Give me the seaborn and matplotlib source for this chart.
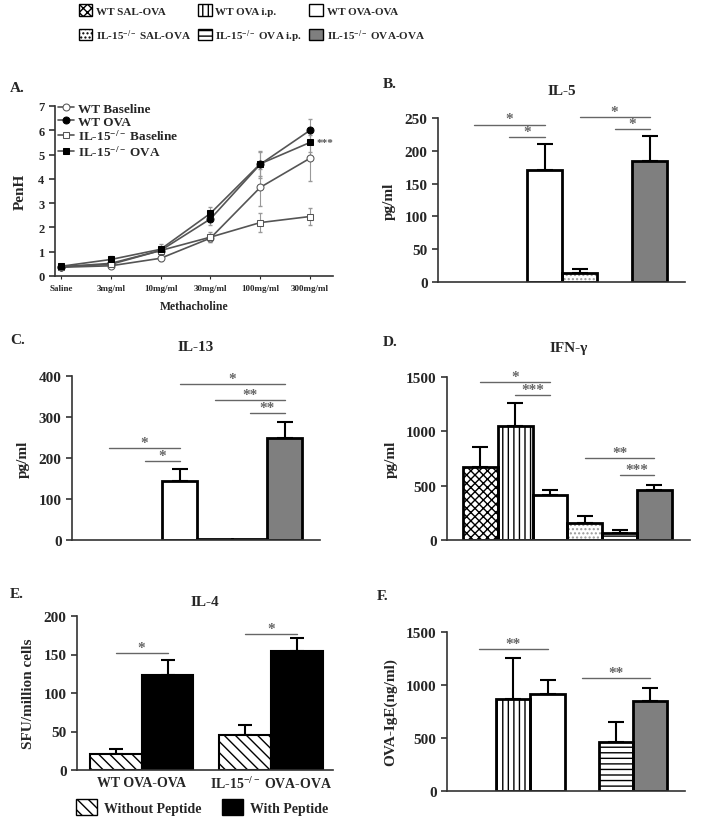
import numpy as np
import pandas as pd
import matplotlib
matplotlib.use("Agg")
import matplotlib.pyplot as plt
import seaborn as sns
from matplotlib.patches import Patch

# ---- data ----
GROUPS = ["WT SAL-OVA", "WT OVA i.p.", "WT OVA-OVA",
          "IL-15$^{-/-}$ SAL-OVA", "IL-15$^{-/-}$ OVA i.p.", "IL-15$^{-/-}$ OVA-OVA"]

DOSES = ["Saline", "3mg/ml", "10mg/ml", "30mg/ml", "100mg/ml", "300mg/ml"]
WT_BASE = [0.36, 0.42, 0.73, 1.56, 3.65, 4.85]
WT_BASE_ERR = [0.05, 0.08, 0.10, 0.15, 0.75, 0.95]
WT_OVA = [0.38, 0.52, 1.05, 2.35, 4.60, 6.00]
WT_OVA_ERR = [0.05, 0.12, 0.15, 0.25, 0.55, 0.45]
IL_BASE = [0.38, 0.48, 1.05, 1.60, 2.20, 2.45]
IL_BASE_ERR = [0.05, 0.10, 0.12, 0.20, 0.40, 0.35]
IL_OVA = [0.40, 0.68, 1.10, 2.58, 4.62, 5.50]
IL_OVA_ERR = [0.05, 0.15, 0.20, 0.25, 0.50, 0.40]

IL5_MEAN = [0, 0, 170, 13, 0, 185]
IL5_SEM = [0, 0, 40, 7, 0, 38]
IL5_SIG = [(0, 2, 240, "*"), (1, 2, 221, "*"), (3, 5, 251, "*"), (4, 5, 233, "*")]

IL13_MEAN = [0, 0, 143, 2, 3, 248]
IL13_SEM = [0, 0, 30, 0, 0, 41]
IL13_SIG = [(0, 2, 224, "*"), (1, 2, 193, "*"), (2, 5, 380, "*"),
            (3, 5, 341, "**"), (4, 5, 310, "**")]

IFN_MEAN = [674, 1050, 414, 160, 65, 460]
IFN_SEM = [180, 210, 45, 60, 25, 50]
IFN_SIG = [(0, 2, 1453, "*"), (1, 2, 1334, "***"), (3, 5, 754, "**"), (4, 5, 598, "***")]

IGE_MEAN = [0, 868, 915, 0, 462, 850]
IGE_SEM = [0, 385, 132, 0, 188, 120]
IGE_SIG = [(0, 2, 1340, "**"), (3, 5, 1066, "**")]

IL4_GROUPS = ["WT OVA-OVA", "IL-15$^{-/-}$ OVA-OVA"]
IL4_COND = ["Without Peptide", "With Peptide"]
IL4_WITHOUT = [21, 46]
IL4_WITHOUT_SEM = [6, 12]
IL4_WITH = [123, 155]
IL4_WITH_SEM = [20, 16]
IL4_SIG = [(0, 152, "*"), (1, 177, "*")]

# ---- styles ----
FACES = ["white", "white", "white", "white", "white", "#7f7f7f"]
HATCHES = ["xxxx", "|||", "", "....", "---", ""]
HATCH_COLORS = ["black", "black", "black", "#9a9a9a", "black", "black"]
SIG_COLOR = "#666666"

sns.set_style("ticks")
plt.rcParams["font.family"] = ["Liberation Serif", "DejaVu Serif"]
plt.rcParams["font.weight"] = "bold"
plt.rcParams["axes.labelweight"] = "bold"
plt.rcParams["axes.titleweight"] = "bold"
plt.rcParams["mathtext.fontset"] = "custom"
plt.rcParams["mathtext.rm"] = "Liberation Serif:bold"
plt.rcParams["mathtext.it"] = "Liberation Serif:bold"
plt.rcParams["mathtext.bf"] = "Liberation Serif:bold"
plt.rcParams["hatch.linewidth"] = 1.0

W, H = 704, 828


def box(l, t, r, b):
    return [l / W, 1 - b / H, (r - l) / W, (b - t) / H]


def style_axis(ax, size=11):
    sns.despine(ax=ax)
    for s in ["left", "bottom"]:
        ax.spines[s].set_color("#333333")
        ax.spines[s].set_linewidth(1.2)
    ax.tick_params(axis="y", labelsize=size, width=1.2, length=4, color="#333333")
    for t in ax.get_yticklabels():
        t.set_fontweight("bold")


def sig_mark(ax, x1, x2, y, stars):
    ax.plot([x1, x2], [y, y], color=SIG_COLOR, linewidth=1, clip_on=False)
    ax.annotate(stars, ((x1 + x2) / 2, y), xytext=(0, 1.5), textcoords="offset points",
                ha="center", va="baseline", fontsize=11, color=SIG_COLOR,
                annotation_clip=False)


fig = plt.figure(figsize=(W / 100, H / 100), dpi=100)

# ---- top legend ----
handles = [Patch(facecolor=f, edgecolor="black", hatch=h, linewidth=1)
           for f, h in zip(FACES, HATCHES)]
order = [0, 3, 1, 4, 2, 5]
fig.legend([handles[i] for i in order], [GROUPS[i] for i in order], ncol=3,
           loc="center", bbox_to_anchor=(252 / W, 1 - 25 / H), frameon=False,
           fontsize=8, handlelength=1.2, handleheight=1.2, handletextpad=0.35,
           columnspacing=0.6, labelspacing=1.0)

# ---- panel A ----
axA = fig.add_axes(box(55, 107, 333, 277))
series = [("WT Baseline", WT_BASE, WT_BASE_ERR, "o", "white"),
          ("WT OVA", WT_OVA, WT_OVA_ERR, "o", "black"),
          ("IL-15$^{-/-}$ Baseline", IL_BASE, IL_BASE_ERR, "s", "white"),
          ("IL-15$^{-/-}$ OVA", IL_OVA, IL_OVA_ERR, "s", "black")]
for label, vals, errs, mk, fc in series:
    ec = "#555555" if fc == "white" else "black"
    sns.lineplot(x=DOSES, y=vals, sort=False, color="#555555", linewidth=1.2,
                 marker=mk, markersize=5, markerfacecolor=fc, markeredgecolor=ec,
                 label=label, ax=axA)
    axA.errorbar(range(len(DOSES)), vals, yerr=errs, fmt="none", ecolor="#999999",
                 elinewidth=0.8, capsize=1.5, zorder=1)
axA.text(len(DOSES) - 1 + 0.12, IL_OVA[-1], "***", ha="left", va="center",
         fontsize=8, color="#555555")
axA.set_xlim(-0.12, 5.46)
axA.set_ylim(0, 7)
axA.set_yticks(range(0, 8))
style_axis(axA, size=9)
axA.tick_params(axis="x", labelsize=6.5, length=2)
for t in axA.get_xticklabels():
    t.set_fontweight("bold")
axA.set_ylabel("PenH", fontsize=11, labelpad=8)
axA.set_xlabel("Methacholine", fontsize=8.5, labelpad=6)
axA.legend(loc="upper left", bbox_to_anchor=(0.01, 1.02), frameon=False, fontsize=9.5,
           handlelength=1.2, handletextpad=0.3, labelspacing=0.05, borderpad=0,
           borderaxespad=0)


# ---- six-group bar panels ----
def bar_panel(rect, means, sems, sig, ymax, yticks, xlim, title, pad, ylabel):
    ax = fig.add_axes(box(*rect))
    sns.barplot(x=GROUPS, y=means, order=GROUPS, hue=GROUPS, hue_order=GROUPS,
                palette=FACES, legend=False, width=1.0, linewidth=0,
                errorbar=None, ax=ax)
    fills = list(ax.patches)
    for p, h, hc in zip(fills, HATCHES, HATCH_COLORS):
        p.set_hatch(h)
        p.set_edgecolor(hc)
    sns.barplot(x=GROUPS, y=means, order=GROUPS, fill=False, color="black",
                width=1.0, linewidth=2, errorbar=None, ax=ax)
    for p in ax.patches:
        if p.get_height() == 0:
            p.set_visible(False)
    xs = np.arange(len(GROUPS))
    m = np.array(means, float)
    s = np.array(sems, float)
    keep = s > 0
    ax.errorbar(xs[keep], m[keep], yerr=[np.zeros(keep.sum()), s[keep]], fmt="none",
                ecolor="black", elinewidth=1.5, capsize=6, capthick=1.5, zorder=0)
    for x1, x2, y, stars in sig:
        sig_mark(ax, x1, x2, y, stars)
    ax.set_xlim(*xlim)
    ax.set_ylim(0, ymax)
    ax.set_yticks(yticks)
    ax.set_xticks([])
    ax.set_xlabel("")
    style_axis(ax)
    ax.set_ylabel(ylabel, fontsize=11, labelpad=6)
    if title:
        ax.set_title(title, fontsize=11, pad=pad)
    return ax


bar_panel((438, 119, 685, 283), IL5_MEAN, IL5_SEM, IL5_SIG, 250, range(0, 251, 50),
          (-1.04, 6.01), "IL-5", 17, "pg/ml")
bar_panel((72, 377, 320, 541), IL13_MEAN, IL13_SEM, IL13_SIG, 400, range(0, 401, 100),
          (-1.07, 6.01), "IL-13", 19, "pg/ml")
bar_panel((447, 378, 690, 541), IFN_MEAN, IFN_SEM, IFN_SIG, 1500, range(0, 1501, 500),
          (-0.96, 6.02), "IFN-γ", 19, "pg/ml")
bar_panel((447, 633, 685, 792), IGE_MEAN, IGE_SEM, IGE_SIG, 1500, range(0, 1501, 500),
          (-0.94, 6.02), None, 0, "OVA-IgE(ng/ml)")

# ---- panel E ----
axE = fig.add_axes(box(77, 617, 333, 771))
df_e = pd.DataFrame({
    "group": IL4_GROUPS * 2,
    "cond": [IL4_COND[0]] * 2 + [IL4_COND[1]] * 2,
    "value": IL4_WITHOUT + IL4_WITH,
})
sns.barplot(data=df_e, x="group", y="value", hue="cond", order=IL4_GROUPS,
            hue_order=IL4_COND, palette=["white", "black"], edgecolor="black",
            linewidth=1.5, errorbar=None, legend=False, ax=axE)
bars = list(axE.patches)
for p in bars[:len(IL4_GROUPS)]:
    p.set_hatch("\\\\\\")
centers = [p.get_x() + p.get_width() / 2 for p in bars]
e_means = IL4_WITHOUT + IL4_WITH
e_sems = IL4_WITHOUT_SEM + IL4_WITH_SEM
axE.errorbar(centers, e_means, yerr=[np.zeros(len(e_sems)), e_sems], fmt="none",
             ecolor="black", elinewidth=1.5, capsize=5, capthick=1.5, zorder=0)
for gi, y, stars in IL4_SIG:
    sig_mark(axE, centers[gi], centers[gi + len(IL4_GROUPS)], y, stars)
axE.set_xlim(-0.5, 1.48)
axE.set_ylim(0, 200)
axE.set_yticks(range(0, 201, 50))
style_axis(axE)
axE.tick_params(axis="x", length=0, labelsize=10, pad=4)
for t in axE.get_xticklabels():
    t.set_fontweight("bold")
axE.set_xlabel("")
axE.set_ylabel("SFU/million cells", fontsize=11, labelpad=6)
axE.set_title("IL-4", fontsize=11, pad=8)
axE.legend(handles=[Patch(facecolor="white", edgecolor="black", hatch="\\\\\\"),
                    Patch(facecolor="black", edgecolor="black")],
           labels=IL4_COND, ncol=2, loc="center", frameon=False, fontsize=10,
           bbox_to_anchor=(202 / W, 1 - 808 / H), bbox_transform=fig.transFigure,
           handlelength=1.5, handleheight=1.3, handletextpad=0.5, columnspacing=1.5)

# ---- panel letters ----
for letter, x, y in [("A.", 10, 89), ("B.", 383, 85), ("C.", 10, 341),
                     ("D.", 383, 342), ("E.", 10, 595), ("F.", 377, 597)]:
    fig.text(x / W, 1 - y / H, letter, fontsize=11, fontweight="bold", va="center")

fig.savefig("out.png", dpi=100)
